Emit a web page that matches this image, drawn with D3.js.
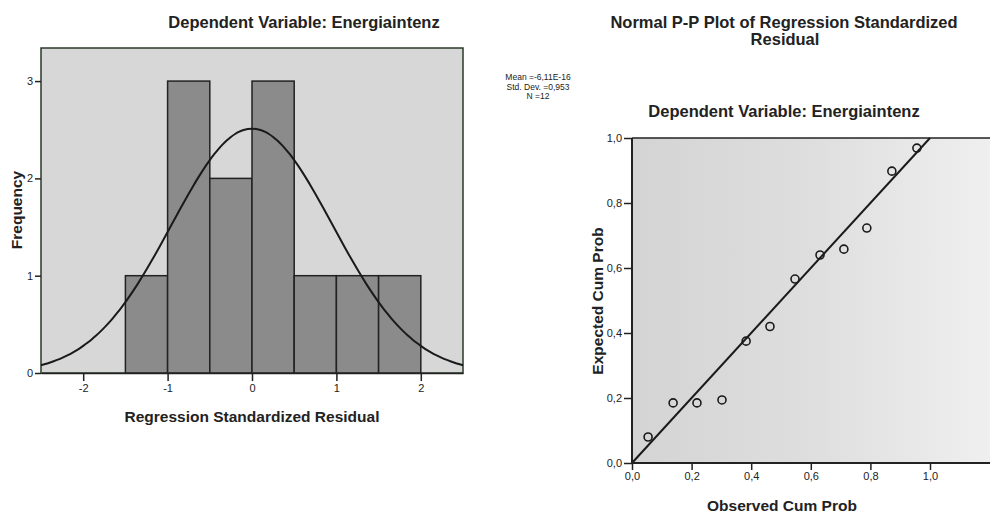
<!DOCTYPE html>
<html>
<head>
<meta charset="utf-8">
<script src="https://cdn.jsdelivr.net/npm/d3@7"></script>
<style>
  body { margin: 0; background: #fff; }
  svg { display: block; font-family: Arial, "Liberation Sans", sans-serif; }
  .tick text { font-size: 11px; fill: #222; }
  .title { font-size: 16.5px; font-weight: bold; fill: #222; }
  .axis-label { font-size: 15.5px; font-weight: bold; fill: #222; }
</style>
</head>
<body>
<div id="chart"></div>
<script>
// Histogram data: bin edges and counts
const binStarts = [-1.5, -1.0, -0.5, 0.0, 0.5, 1.0, 1.5];
const binCounts = [1, 3, 2, 3, 1, 1, 1];
const binWidth = 0.5;
const histXTicks = [-2, -1, 0, 1, 2];
const histYTicks = [0, 1, 2, 3];

// Residual statistics shown in the legend
const residMean = -6.11e-16;
const residSd = 0.953;
const residN = 12;
const legendLines = ['Mean =-6,11E-16', 'Std. Dev. =0,953', 'N =12'];

// P-P plot data
const observedCum = [0.054, 0.138, 0.218, 0.302, 0.383, 0.463, 0.547, 0.631, 0.711, 0.788, 0.872, 0.956];
const expectedCum = [0.080, 0.185, 0.185, 0.194, 0.375, 0.420, 0.566, 0.640, 0.658, 0.723, 0.898, 0.969];
const ppTicks = [0, 0.2, 0.4, 0.6, 0.8, 1.0];

const fmt = d => d3.format('.1f')(d).replace('.', ',');

const svg = d3.select('#chart')
    .append('svg')
    .attr('width', 990)
    .attr('height', 513);

// ---------- Left: histogram ----------
const hx = d3.scaleLinear().domain([-2.5, 2.5]).range([41, 463]);
const hy = d3.scaleLinear().domain([0, 3.34]).range([373, 48]);

svg.append('rect')
    .attr('x', hx(-2.5))
    .attr('y', hy(3.34))
    .attr('width', hx(2.5) - hx(-2.5))
    .attr('height', hy(0) - hy(3.34))
    .attr('fill', '#d7d7d7')
    .attr('stroke', '#2a3a2a')
    .attr('stroke-width', 1.5);

svg.selectAll('.bar')
    .data(binStarts.map((s, i) => ({ s, c: binCounts[i] })))
    .enter()
    .append('rect')
    .attr('class', 'bar')
    .attr('x', d => hx(d.s))
    .attr('y', d => hy(d.c))
    .attr('width', d => hx(d.s + binWidth) - hx(d.s))
    .attr('height', d => hy(0) - hy(d.c))
    .attr('fill', '#8b8b8b')
    .attr('stroke', '#222')
    .attr('stroke-width', 1.5);

// Fitted normal curve from the legend statistics
const curveX = d3.range(-2.5, 2.5001, 0.05);
const normal = x => residN * binWidth * Math.exp(-0.5 * Math.pow((x - residMean) / residSd, 2)) / (residSd * Math.sqrt(2 * Math.PI));
svg.append('path')
    .datum(curveX)
    .attr('fill', 'none')
    .attr('stroke', '#1a1a1a')
    .attr('stroke-width', 2)
    .attr('d', d3.line().x(d => hx(d)).y(d => hy(normal(d))).curve(d3.curveBasis));

const hxAxis = svg.append('g')
    .attr('transform', `translate(0,${hy(0)})`)
    .call(d3.axisBottom(hx).tickValues(histXTicks).tickSize(8).tickSizeOuter(0).tickPadding(3).tickFormat(d => String(d)));
hxAxis.select('.domain').attr('stroke', '#222').attr('stroke-width', 1.5);
hxAxis.selectAll('.tick line').attr('stroke', '#222').attr('stroke-width', 1.5);

const hyAxis = svg.append('g')
    .attr('transform', `translate(${hx(-2.5)},0)`)
    .call(d3.axisLeft(hy).tickValues(histYTicks).tickSize(6).tickPadding(2).tickFormat(d => String(d)));
hyAxis.select('.domain').remove();
hyAxis.selectAll('.tick line').attr('stroke', '#222').attr('stroke-width', 1.5);

svg.append('text')
    .attr('class', 'title')
    .attr('x', 304)
    .attr('y', 28)
    .attr('text-anchor', 'middle')
    .text('Dependent Variable: Energiaintenz');

svg.append('text')
    .attr('class', 'axis-label')
    .attr('x', 252)
    .attr('y', 422)
    .attr('text-anchor', 'middle')
    .text('Regression Standardized Residual');

svg.append('text')
    .attr('class', 'axis-label')
    .attr('transform', 'translate(22,210) rotate(-90)')
    .attr('text-anchor', 'middle')
    .text('Frequency');

svg.selectAll('.legend')
    .data(legendLines)
    .enter()
    .append('text')
    .attr('class', 'legend')
    .attr('x', 538)
    .attr('y', (d, i) => 80 + i * 9.5)
    .attr('text-anchor', 'middle')
    .style('font-size', '8.5px')
    .style('fill', '#222')
    .text(d => d);

// ---------- Right: P-P plot ----------
const px = d3.scaleLinear().domain([0, 1]).range([632, 930]);
const py = d3.scaleLinear().domain([0, 1]).range([463, 138]);

const grad = svg.append('defs').append('linearGradient')
    .attr('id', 'ppbg')
    .attr('x1', '0').attr('x2', '1').attr('y1', '0').attr('y2', '0');
grad.append('stop').attr('offset', '0').attr('stop-color', '#d4d4d4');
grad.append('stop').attr('offset', '0.5').attr('stop-color', '#dedede');
grad.append('stop').attr('offset', '1').attr('stop-color', '#efefef');

svg.append('rect')
    .attr('x', px(0))
    .attr('y', py(1))
    .attr('width', 990 - px(0))
    .attr('height', py(0) - py(1))
    .attr('fill', 'url(#ppbg)');

svg.append('line')
    .attr('x1', px(0)).attr('x2', 990)
    .attr('y1', py(1)).attr('y2', py(1))
    .attr('stroke', '#222').attr('stroke-width', 1.5);

svg.append('line')
    .attr('x1', px(0)).attr('y1', py(0))
    .attr('x2', px(1)).attr('y2', py(1))
    .attr('stroke', '#1a1a1a').attr('stroke-width', 2);

svg.selectAll('.pt')
    .data(observedCum.map((o, i) => ({ o, e: expectedCum[i] })))
    .enter()
    .append('circle')
    .attr('class', 'pt')
    .attr('cx', d => px(d.o))
    .attr('cy', d => py(d.e))
    .attr('r', 4)
    .attr('fill', 'none')
    .attr('stroke', '#1a1a1a')
    .attr('stroke-width', 1.6);

const pxAxis = svg.append('g')
    .attr('transform', `translate(0,${py(0)})`)
    .call(d3.axisBottom(px).tickValues(ppTicks).tickSize(7).tickPadding(2).tickFormat(fmt));
pxAxis.select('.domain').attr('d', `M${px(0)},0H990`).attr('stroke', '#222').attr('stroke-width', 2);
pxAxis.selectAll('.tick line').attr('stroke', '#222').attr('stroke-width', 1.5);

const pyAxis = svg.append('g')
    .attr('transform', `translate(${px(0)},0)`)
    .call(d3.axisLeft(py).tickValues(ppTicks).tickSize(8).tickPadding(2).tickFormat(fmt));
pyAxis.select('.domain').attr('d', `M0,${py(1)}V${py(0)}`).attr('stroke', '#222').attr('stroke-width', 2);
pyAxis.selectAll('.tick line').attr('stroke', '#222').attr('stroke-width', 1.5);

svg.append('text')
    .attr('class', 'title')
    .attr('x', 784)
    .attr('y', 28)
    .attr('text-anchor', 'middle')
    .text('Normal P-P Plot of Regression Standardized');

svg.append('text')
    .attr('class', 'title')
    .attr('x', 785)
    .attr('y', 45)
    .attr('text-anchor', 'middle')
    .text('Residual');

svg.append('text')
    .attr('class', 'title')
    .attr('x', 784)
    .attr('y', 117)
    .attr('text-anchor', 'middle')
    .text('Dependent Variable: Energiaintenz');

svg.append('text')
    .attr('class', 'axis-label')
    .attr('x', 782)
    .attr('y', 511)
    .attr('text-anchor', 'middle')
    .text('Observed Cum Prob');

svg.append('text')
    .attr('class', 'axis-label')
    .attr('transform', 'translate(603,301) rotate(-90)')
    .attr('text-anchor', 'middle')
    .text('Expected Cum Prob');
</script>
</body>
</html>
